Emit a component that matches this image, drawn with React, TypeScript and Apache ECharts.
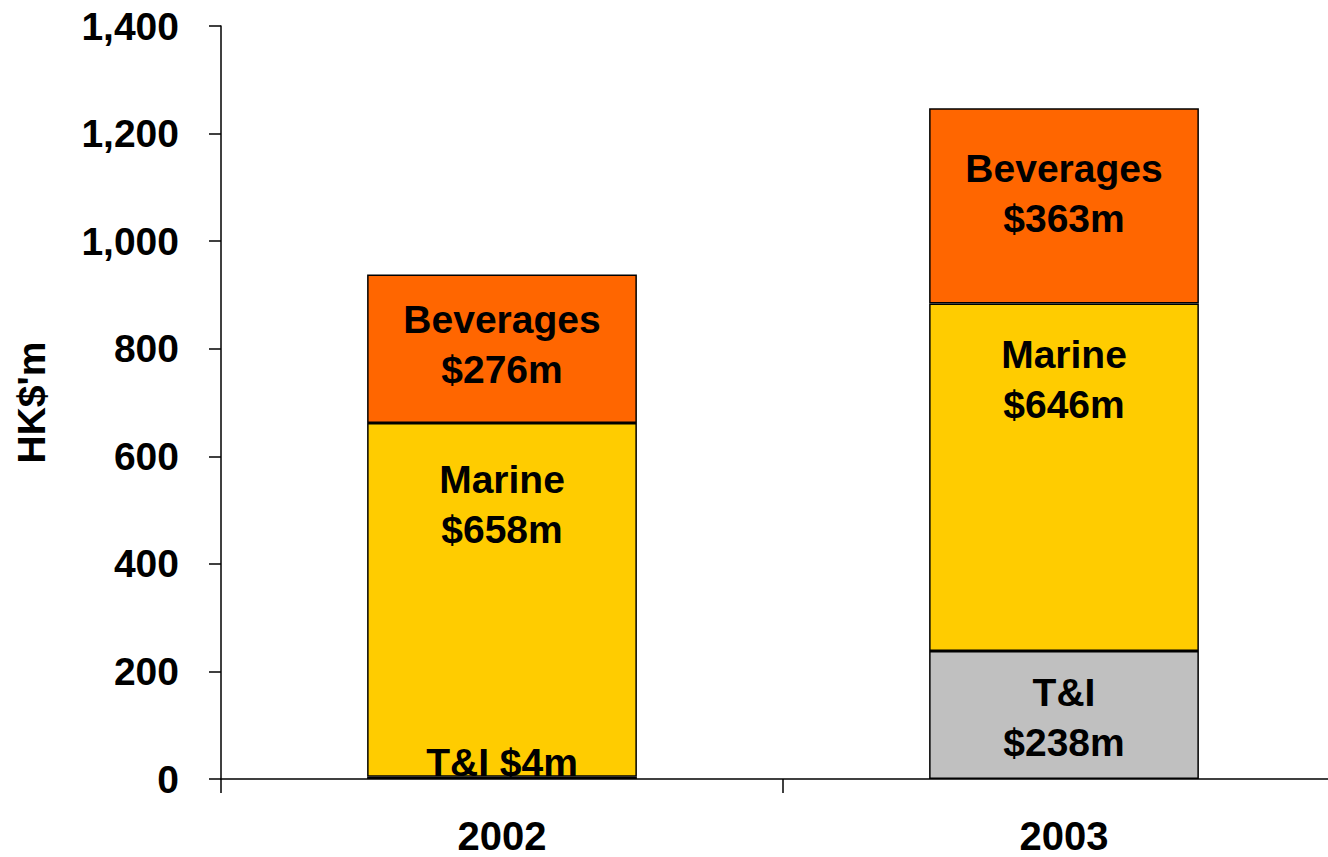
import React, { useEffect, useRef } from "react";
import * as echarts from "echarts";

const categories = ["2002", "2003"];
const tiValues = [4, 238];
const marineValues = [658, 646];
const beveragesValues = [276, 363];
const yTicks = [0, 200, 400, 600, 800, 1000, 1200, 1400];

const tiLabels = ["T&I $4m", "T&I\n$238m"];
const marineLabels = ["Marine\n$658m", "Marine\n$646m"];
const beveragesLabels = ["Beverages\n$276m", "Beverages\n$363m"];

// label vertical offsets (px), separate from data
const tiOffsets = [-15, 3];
const marineOffsets = [-95, -98];
const beveragesOffsets = [-4, -12];

const FONT = "'Liberation Sans', Arial, sans-serif";

function makeData(values: number[], labels: string[], offsets: number[]) {
  return values.map((v, i) => ({
    value: v,
    label: { formatter: labels[i], offset: [0, offsets[i]] },
  }));
}

export default function App() {
  const ref = useRef<HTMLDivElement>(null);
  useEffect(() => {
    if (!ref.current) return;
    const chart = echarts.init(ref.current, undefined, { renderer: "svg" });
    const labelStyle = {
      show: true,
      position: "inside",
      color: "#000",
      fontFamily: FONT,
      fontWeight: "bold",
      fontSize: 39,
      lineHeight: 50,
      align: "center",
    };
    const common = {
      type: "bar",
      stack: "total",
      barWidth: "48%",
      itemStyle: { borderColor: "#000", borderWidth: 1.5 },
    };
    chart.setOption({
      animation: false,
      backgroundColor: "#fff",
      grid: { left: 221, right: 0, top: 26, bottom: 78, containLabel: false },
      xAxis: {
        type: "category",
        data: categories,
        boundaryGap: true,
        axisLine: { show: true, lineStyle: { color: "#000", width: 1.5 } },
        axisTick: { show: true, alignWithLabel: false, length: 14, lineStyle: { color: "#000", width: 1.5 } },
        axisLabel: {
          color: "#000",
          fontFamily: FONT,
          fontWeight: "bold",
          fontSize: 40,
          lineHeight: 40,
          margin: 37,
        },
        splitLine: { show: false },
      },
      yAxis: {
        type: "value",
        min: yTicks[0],
        max: yTicks[yTicks.length - 1],
        interval: 200,
        name: "HK$'m",
        nameLocation: "middle",
        nameGap: 170,
        nameRotate: 90,
        nameTextStyle: {
          color: "#000",
          fontFamily: FONT,
          fontWeight: "bold",
          fontSize: 39,
        },
        axisLine: { show: true, lineStyle: { color: "#000", width: 1.5 } },
        axisTick: { show: true, inside: false, length: 12, lineStyle: { color: "#000", width: 1.5 } },
        axisLabel: {
          color: "#000",
          fontFamily: FONT,
          fontWeight: "bold",
          fontSize: 39,
          margin: 42,
          formatter: (v: number) => v.toLocaleString("en-US"),
        },
        splitLine: { show: false },
      },
      series: [
        {
          ...common,
          name: "T&I",
          itemStyle: { ...common.itemStyle, color: "#C0C0C0" },
          label: labelStyle,
          data: makeData(tiValues, tiLabels, tiOffsets),
          z: 3,
        },
        {
          ...common,
          name: "Marine",
          itemStyle: { ...common.itemStyle, color: "#FFCC00" },
          label: labelStyle,
          data: makeData(marineValues, marineLabels, marineOffsets),
          z: 2,
        },
        {
          ...common,
          name: "Beverages",
          itemStyle: { ...common.itemStyle, color: "#FF6600" },
          label: labelStyle,
          data: makeData(beveragesValues, beveragesLabels, beveragesOffsets),
          z: 2,
        },
      ],
    });
    return () => chart.dispose();
  }, []);
  return (
    <div
      ref={ref}
      style={{ position: "fixed", left: 0, top: 0, width: 1345, height: 857, background: "#fff" }}
    />
  );
}
